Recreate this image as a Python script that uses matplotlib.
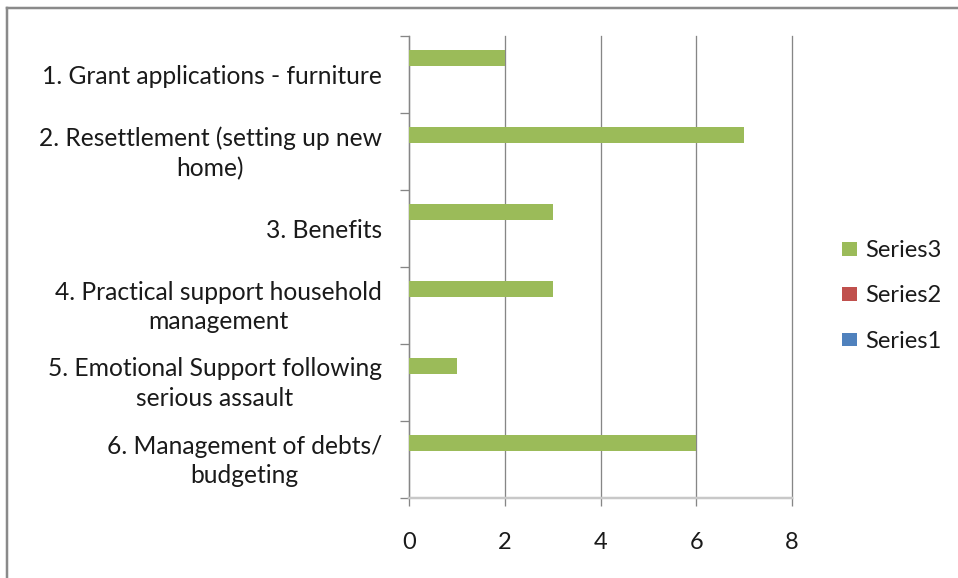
import matplotlib
matplotlib.use("Agg")
import matplotlib.pyplot as plt
from matplotlib.patches import Patch
from matplotlib.lines import Line2D
from matplotlib.transforms import ScaledTranslation
import numpy as np

plt.rcParams['font.family'] = ['Lato', 'DejaVu Sans']

categories = [
    "1. Grant applications - furniture",
    "2. Resettlement (setting up new\nhome)",
    "3. Benefits",
    "4. Practical support household\nmanagement",
    "5. Emotional Support following\nserious assault",
    "6. Management of debts/\nbudgeting",
]
series1 = [0, 0, 0, 0, 0, 0]
series2 = [0, 0, 0, 0, 0, 0]
series3 = [2, 7, 3, 3, 1, 6]
series_names = ["Series1", "Series2", "Series3"]
series_colors = ["#4F81BD", "#C0504D", "#9BBB59"]
x_ticks = [0, 2, 4, 6, 8]

W, H = 958, 578
PX = 72 / 100  # points per pixel at 100 dpi
fig = plt.figure(figsize=(W / 100, H / 100), dpi=100)
ax = fig.add_axes([409 / W, 1 - 498 / H, (792 - 409) / W, (498 - 36) / H])

n = len(categories)
pos = np.arange(n)
gap = 1.8
h = 1.0 / (3 + gap)
offsets = [h, 0.0, -h]  # Series1 lowest, Series3 on top within each band
for vals, off, col in zip([series1, series2, series3], offsets, series_colors):
    ax.barh(pos + off, vals, height=h, color=col, edgecolor='none', zorder=3)

ax.set_ylim(n - 0.5, -0.5)
ax.set_xlim(0, 8)

grid_col = "#868686"
text_col = "#1a1a1a"

# vertical gridlines
ax.set_xticks(x_ticks)
ax.set_xticklabels([str(t) for t in x_ticks], fontsize=17, color=text_col)
ax.xaxis.grid(True, color=grid_col, linewidth=1.3 * PX, zorder=0)
for gl in ax.get_xgridlines():
    gl.set_clip_on(False)
ax.tick_params(axis='x', length=8 * PX, width=1.3 * PX, color=grid_col, pad=19)

# category labels at band centres, tick marks at band boundaries
ax.set_yticks(pos)
ax.set_yticklabels(categories, fontsize=17.7, color=text_col,
                   multialignment='center', linespacing=1.36)
ax.tick_params(axis='y', which='major', length=0, pad=27 * PX)
ax.set_yticks(np.arange(n + 1) - 0.5, minor=True)
ax.tick_params(axis='y', which='minor', length=9 * PX, width=1.3 * PX, color=grid_col)

# centre two-line labels on their band
lift = ScaledTranslation(0, 4 / 100, fig.dpi_scale_trans)
for lab in ax.get_yticklabels():
    if "\n" in lab.get_text():
        lab.set_transform(lab.get_transform() + lift)

for s in ['top', 'right']:
    ax.spines[s].set_visible(False)
ax.spines['left'].set_color(grid_col)
ax.spines['left'].set_linewidth(1.3 * PX)
ax.spines['bottom'].set_color("#c8c8c8")
ax.spines['bottom'].set_linewidth(2.5 * PX)

# legend (top entry is Series3)
handles = [Patch(facecolor=c, edgecolor='none') for c in series_colors[::-1]]
fig.legend(handles, series_names[::-1], loc='center left',
           bbox_to_anchor=(821 / W, 1 - 296 / H), frameon=False,
           fontsize=17, handlelength=0.64, handleheight=0.51,
           handletextpad=0.34, labelspacing=1.03, labelcolor=text_col)

# chart frame edges
fig.add_artist(Line2D([7 / W, 7 / W], [0, 1 - 8 / H], transform=fig.transFigure,
                      color="#8a8a8a", linewidth=2.5 * PX))
fig.add_artist(Line2D([7 / W, 1], [1 - 8 / H, 1 - 8 / H], transform=fig.transFigure,
                      color="#8a8a8a", linewidth=2.5 * PX))

fig.savefig("out.png", dpi=100, facecolor="white")
